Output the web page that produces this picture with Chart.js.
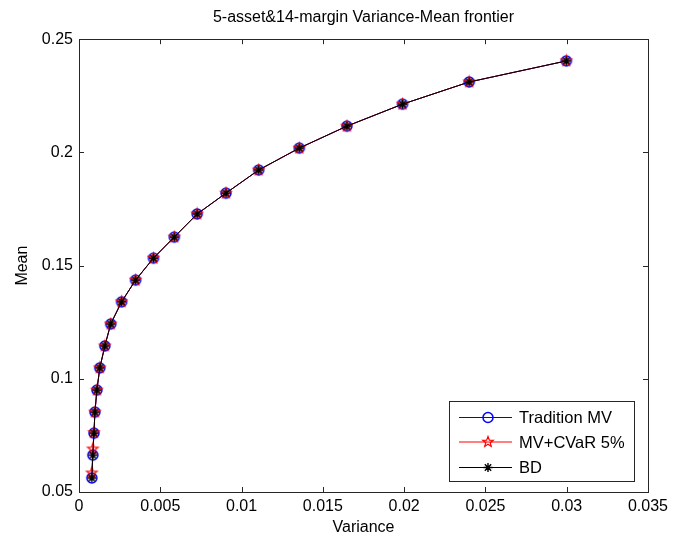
<!DOCTYPE html>
<html>
<head>
<meta charset="utf-8">
<script src="https://cdn.jsdelivr.net/npm/chart.js@4.4.1/dist/chart.umd.min.js"></script>
<style>
  html, body { margin: 0; padding: 0; background: #fff; }
  #wrap { width: 673px; height: 537px; }
</style>
</head>
<body>
<div id="wrap"><canvas id="c" width="673" height="537"></canvas></div>
<script>
// ---- data ----
const variance = [0.00079, 0.00085, 0.00092, 0.00098, 0.0011, 0.00128, 0.00159, 0.00195, 0.00262, 0.00348,
                  0.00458, 0.00586, 0.00727, 0.00904, 0.01105, 0.01355, 0.01648, 0.0199, 0.024, 0.02998];
const meanMV   = [0.0562, 0.0663, 0.076, 0.0853, 0.095, 0.1048, 0.1145, 0.1242, 0.134, 0.1436,
                  0.1533, 0.1626, 0.1728, 0.182, 0.1922, 0.2019, 0.2116, 0.2213, 0.2311, 0.2404];
const meanCVaR = [0.0584, 0.069, 0.0762, 0.0853, 0.095, 0.1048, 0.1145, 0.1242, 0.134, 0.1436,
                  0.1533, 0.1626, 0.1728, 0.182, 0.1922, 0.2019, 0.2116, 0.2213, 0.2311, 0.2404];
const meanBD   = [0.0562, 0.0663, 0.076, 0.0853, 0.095, 0.1048, 0.1145, 0.1242, 0.134, 0.1436,
                  0.1533, 0.1626, 0.1728, 0.182, 0.1922, 0.2019, 0.2116, 0.2213, 0.2311, 0.2404];
const seriesNames = ['Tradition MV', 'MV+CVaR 5%', 'BD'];
const xTicks = [0, 0.005, 0.01, 0.015, 0.02, 0.025, 0.03, 0.035];
const yTicks = [0.05, 0.1, 0.15, 0.2, 0.25];

const FONT = '"Liberation Sans", Arial, sans-serif';

function pts(ys) { return variance.map((x, i) => ({ x, y: ys[i] })); }

// marker drawers (MATLAB-ish glyphs)
function drawPentagram(ctx, cx, cy, r, color) {
  ctx.save();
  ctx.strokeStyle = color; ctx.lineWidth = 1.2;
  ctx.beginPath();
  for (let i = 0; i < 10; i++) {
    const rr = i % 2 === 0 ? r : r * 0.42;
    const a = -Math.PI / 2 + i * Math.PI / 5;
    const px = cx + rr * Math.cos(a), py = cy + rr * Math.sin(a);
    i ? ctx.lineTo(px, py) : ctx.moveTo(px, py);
  }
  ctx.closePath(); ctx.stroke();
  ctx.restore();
}
function drawCircle(ctx, cx, cy, r, color) {
  ctx.save(); ctx.strokeStyle = color; ctx.lineWidth = 1.5;
  ctx.beginPath(); ctx.arc(cx, cy, r, 0, Math.PI * 2); ctx.stroke(); ctx.restore();
}
function drawAsterisk(ctx, cx, cy, r, color) {
  ctx.save(); ctx.strokeStyle = color; ctx.lineWidth = 1.4;
  ctx.beginPath();
  for (let i = 0; i < 4; i++) {
    const a = i * Math.PI / 4;
    ctx.moveTo(cx - r * Math.cos(a), cy - r * Math.sin(a));
    ctx.lineTo(cx + r * Math.cos(a), cy + r * Math.sin(a));
  }
  ctx.stroke(); ctx.restore();
}
function markerCanvas(fn, color, r) {
  const cv = document.createElement('canvas');
  const s = Math.ceil(r * 2 + 4);
  cv.width = s; cv.height = s;
  fn(cv.getContext('2d'), s / 2, s / 2, r, color);
  return cv;
}
const MARKERS = [
  { fn: drawCircle, color: '#0000ff', r: 5 },
  { fn: drawPentagram, color: '#ff0000', r: 5.5 },
  { fn: drawAsterisk, color: '#000000', r: 4.5 },
];

// inward ticks + box, like matlab's "box on"
const frameTicks = {
  id: 'frameTicks',
  afterDraw(chart) {
    const { ctx, chartArea: a, scales } = chart;
    const L = 5;
    ctx.save();
    ctx.strokeStyle = '#262626'; ctx.lineWidth = 1;
    ctx.beginPath();
    xTicks.forEach(v => {
      const px = Math.round(scales.x.getPixelForValue(v)) + 0.5;
      ctx.moveTo(px, a.bottom); ctx.lineTo(px, a.bottom - L);
      ctx.moveTo(px, a.top); ctx.lineTo(px, a.top + L);
    });
    yTicks.forEach(v => {
      const py = Math.round(scales.y.getPixelForValue(v)) + 0.5;
      ctx.moveTo(a.left, py); ctx.lineTo(a.left + L, py);
      ctx.moveTo(a.right, py); ctx.lineTo(a.right - L, py);
    });
    ctx.stroke();
    ctx.strokeRect(Math.round(a.left) + 0.5, Math.round(a.top) + 0.5,
                   Math.round(a.right - a.left), Math.round(a.bottom - a.top));
    ctx.restore();
  }
};

// legend box at lower right, line sample + marker
const lineLegend = {
  id: 'lineLegend',
  afterDraw(chart) {
    const { ctx } = chart;
    const box = { x: 449.5, y: 401.5, w: 185, h: 80 };
    ctx.save();
    ctx.fillStyle = '#fff'; ctx.fillRect(box.x, box.y, box.w, box.h);
    ctx.strokeStyle = '#262626'; ctx.lineWidth = 1; ctx.strokeRect(box.x, box.y, box.w, box.h);
    const rows = [417.5, 442, 467.5];
    ctx.font = '16.5px ' + FONT; ctx.textBaseline = 'middle'; ctx.fillStyle = '#000';
    chart.data.datasets.forEach((ds, i) => {
      const y = rows[i];
      ctx.strokeStyle = ds.borderColor; ctx.lineWidth = 1;
      ctx.beginPath(); ctx.moveTo(459, y); ctx.lineTo(512, y); ctx.stroke();
      const m = MARKERS[i];
      m.fn(ctx, 488, y, m.r, m.color);
      ctx.fillStyle = '#000';
      ctx.fillText(ds.label, 519, y + 1);
    });
    ctx.restore();
  }
};

new Chart(document.getElementById('c').getContext('2d'), {
  type: 'scatter',
  data: {
    datasets: [meanMV, meanCVaR, meanBD].map((ys, i) => ({
      label: seriesNames[i],
      data: pts(ys),
      showLine: true,
      borderColor: MARKERS[i].color,
      borderWidth: 1,
      pointStyle: markerCanvas(MARKERS[i].fn, MARKERS[i].color, MARKERS[i].r),
      order: 3 - i,
    })),
  },
  options: {
    responsive: false,
    animation: false,
    layout: { padding: { left: 0, right: 21, top: 0, bottom: 0 } },
    plugins: {
      legend: { display: false },
      tooltip: { enabled: false },
      title: {
        display: true, fullSize: false,
        text: '5-asset&14-margin Variance-Mean frontier',
        color: '#000',
        font: { family: FONT, size: 16, weight: 'normal', lineHeight: 1.2 },
        padding: { top: 8, bottom: 12 },
      },
    },
    scales: {
      x: {
        type: 'linear', min: 0, max: 0.035,
        afterBuildTicks: s => { s.ticks = xTicks.map(v => ({ value: v })); },
        afterFit: s => { s.height = 45; },
        grid: { display: false, drawTicks: false },
        border: { display: false },
        ticks: { color: '#000', padding: 5, maxRotation: 0, font: { family: FONT, size: 16 }, callback: v => String(+v.toFixed(3)) },
        title: { display: true, text: 'Variance', color: '#000', font: { family: FONT, size: 16, lineHeight: 1.2 }, padding: { top: 0, bottom: 0 } },
      },
      y: {
        type: 'linear', min: 0.05, max: 0.25,
        afterBuildTicks: s => { s.ticks = yTicks.map(v => ({ value: v })); },
        afterFit: s => { s.width = 79; },
        grid: { display: false, drawTicks: false },
        border: { display: false },
        ticks: { color: '#000', padding: 6, font: { family: FONT, size: 16 }, callback: v => String(+v.toFixed(2)) },
        title: { display: true, text: 'Mean', color: '#000', font: { family: FONT, size: 16, lineHeight: 1.2 }, padding: { top: 13, bottom: 0 } },
      },
    },
  },
  plugins: [frameTicks, lineLegend],
});
</script>
</body>
</html>
